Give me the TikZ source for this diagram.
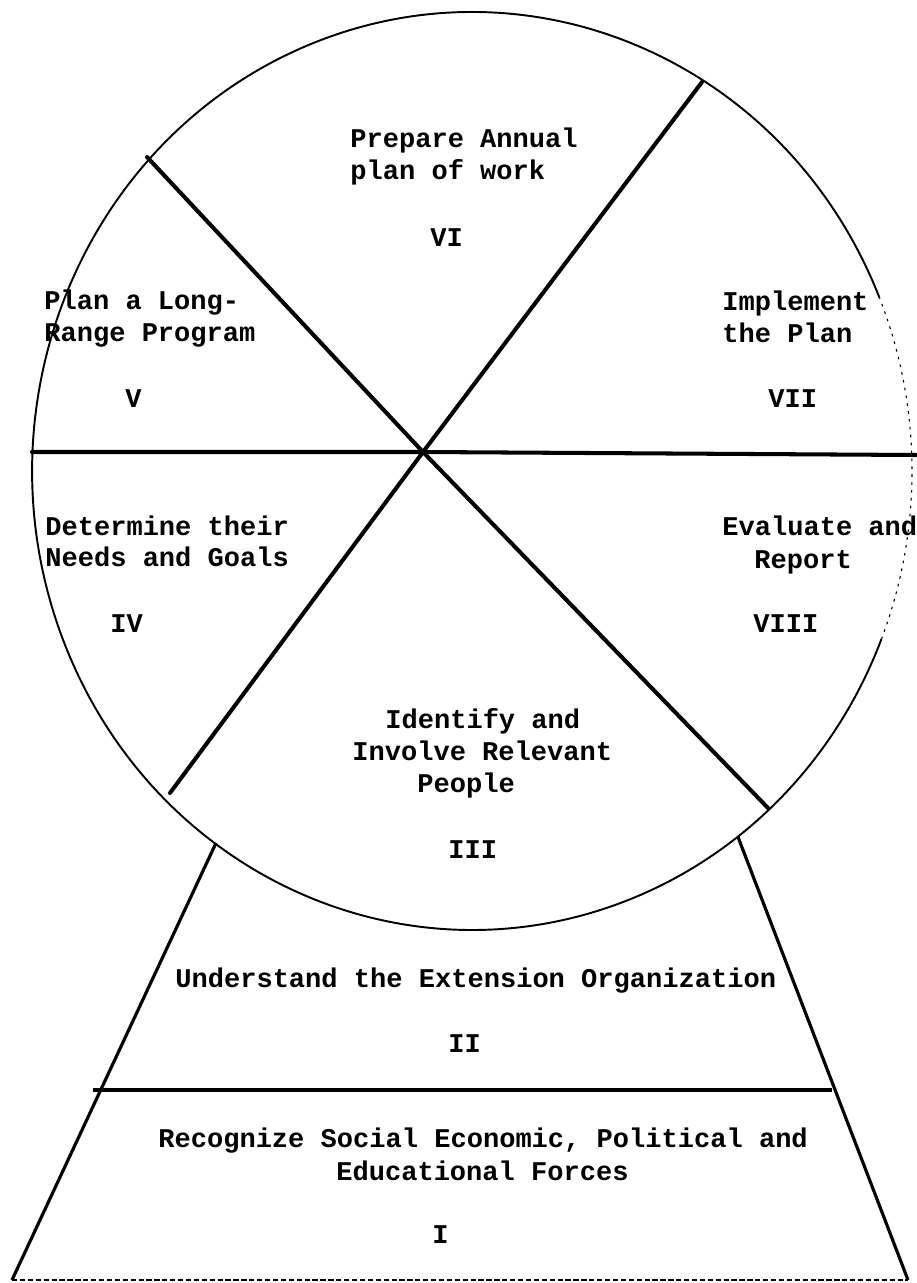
\documentclass[tikz,border=0pt]{standalone}
\usepackage{fontspec}
\setmonofont{Liberation Mono}

\begin{document}
\begin{tikzpicture}[x=0.02cm,y=-0.02cm,
        spoke/.style={line width=2.3pt,line cap=round},
        rim/.style={line width=1.1pt},
        faint/.style={line width=0.6pt,dash pattern=on 1.5pt off 3pt},
        side/.style={line width=1.8pt},
        txt/.style={anchor=base west,inner sep=0pt,font=\fontsize{15.4}{18}\selectfont\ttfamily\bfseries}]
    \useasboundingbox (0,0) rectangle (916,1283);

    % the wheel
    \draw[rim] (879.4,297.6) arc[start angle=22.2,end angle=338.5,x radius=8.8cm,y radius=9.18cm];
    \draw[faint] (881.4,639.2) arc[start angle=-21.5,end angle=22.2,x radius=8.8cm,y radius=9.18cm];

    \coordinate (O) at (423,452);
    \coordinate (hl) at (32,452);
    \coordinate (hr) at (916,455);
    \coordinate (d1a) at (147,157);
    \coordinate (d1b) at (768,808);
    \coordinate (d2a) at (702,82);
    \coordinate (d2b) at (170,793);

    \draw[spoke] (hl) -- (O) -- (hr);
    \draw[spoke] (d1a) -- (O) -- (d1b);
    \draw[spoke] (d2a) -- (O) -- (d2b);

    % the stand
    \coordinate (tl) at (216,843);
    \coordinate (tr) at (738,837);
    \coordinate (bl) at (12,1280);
    \coordinate (br) at (908,1280);
    \coordinate (ml) at (93,1090);
    \coordinate (mr) at (832,1090);

    \draw[side] (tl) -- (bl);
    \draw[side] (tr) -- (br);
    \draw[side] (ml) -- (mr);
    \draw[line width=1pt,dash pattern=on 3pt off 1.5pt] (bl) -- (br);

    % labels
    \node[txt] (vi1) at (350,148) {Prepare Annual};
    \node[txt] (vi2) at (350,180) {plan of work};
    \node[txt] (vi) at (430,247) {VI};

    \node[txt] (v1) at (44,310) {Plan a Long-};
    \node[txt] (v2) at (44,342) {Range Program};
    \node[txt] (v) at (125,407) {V};

    \node[txt] (vii1) at (722,311) {Implement};
    \node[txt] (vii2) at (722,343) {the Plan};
    \node[txt] (vii) at (768,407) {VII};

    \node[txt] (iv1) at (45,535) {Determine their};
    \node[txt] (iv2) at (45,566) {Needs and Goals};
    \node[txt] (iv) at (110,632) {IV};

    \node[txt] (viii1) at (722,535) {Evaluate and};
    \node[txt] (viii2) at (754,568) {Report};
    \node[txt] (viii) at (753,632) {VIII};

    \node[txt] (iii1) at (385,728) {Identify and};
    \node[txt] (iii2) at (352,760) {Involve Relevant};
    \node[txt] (iii3) at (417,792) {People};
    \node[txt] (iii) at (448,858) {III};

    \node[txt] (ii1) at (175,987) {Understand the Extension Organization};
    \node[txt] (ii) at (448,1052) {II};

    \node[txt] (i1) at (158,1147) {Recognize Social Economic, Political and};
    \node[txt] (i2) at (336,1180) {Educational Forces};
    \node[txt] (i) at (432,1243) {I};
\end{tikzpicture}
\end{document}
